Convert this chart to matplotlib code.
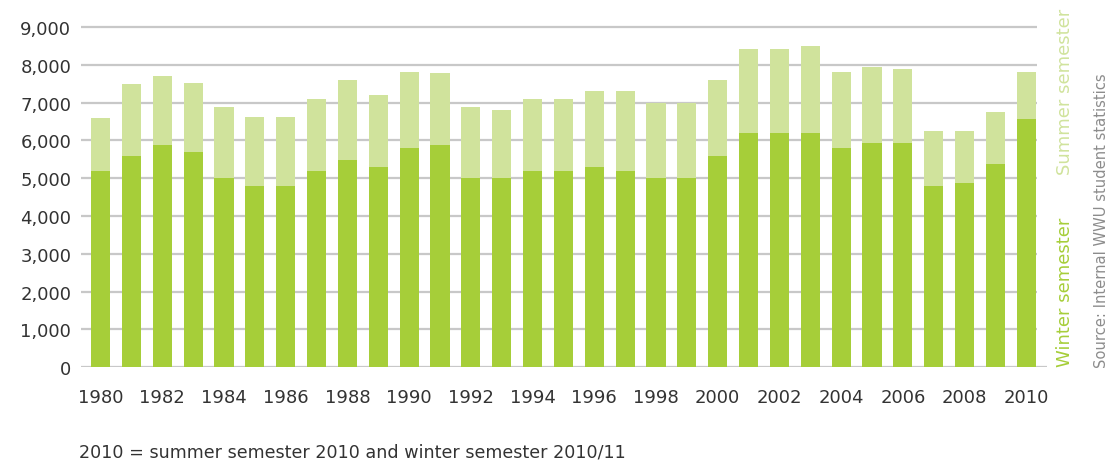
import matplotlib
matplotlib.use("Agg")
import matplotlib.pyplot as plt
import numpy as np

years = list(range(1980, 2011))
winter = [5200, 5600, 5880, 5700, 5000, 4800, 4800, 5200, 5480, 5300,
          5800, 5880, 5000, 5000, 5200, 5200, 5300, 5200, 5000, 5000,
          5600, 6200, 6200, 6200, 5800, 5930, 5930, 4800, 4880, 5380, 6570]
total = [6600, 7500, 7700, 7520, 6880, 6620, 6620, 7100, 7600, 7200,
         7810, 7780, 6880, 6800, 7100, 7100, 7300, 7300, 7000, 7000,
         7600, 8420, 8420, 8500, 7810, 7940, 7890, 6250, 6250, 6750, 7810]
summer = [t - w for t, w in zip(total, winter)]
yticks = [0, 1000, 2000, 3000, 4000, 5000, 6000, 7000, 8000, 9000]
xtick_years = years[::2]

W, H = 1109, 464
C_WIN = "#a6ce39"
C_SUM = "#d0e39c"
C_GRID = "#c8c8c8"
C_TXT = "#333333"

plt.rcParams['font.family'] = ['DejaVu Sans']
fig = plt.figure(figsize=(W / 100, H / 100), dpi=100)
left, right = 81, 1047
bottom, top = 368.3, 28
ax = fig.add_axes([left / W, 1 - bottom / H, (right - left) / W, (bottom - top) / H])

x = np.arange(len(years))
bw = 0.62
ax.bar(x, winter, width=bw, color=C_WIN, zorder=3)
ax.bar(x, summer, width=bw, bottom=winter, color=C_SUM, zorder=3)

ax.set_xlim(-0.632, 30.67)
ax.set_ylim(0, 9000)
for v in yticks[1:]:
    ax.hlines(v, -0.632, 30.34, color=C_GRID, lw=1.6, zorder=1, clip_on=False)
ax.axhline(0, color=C_GRID, lw=1.6, zorder=1)

for s in ax.spines.values():
    s.set_visible(False)

ax.set_yticks(yticks)
ax.set_yticklabels([f"{v:,}" for v in yticks])
ax.set_xticks([years.index(y) for y in xtick_years])
ax.set_xticklabels([str(y) for y in xtick_years])
ax.tick_params(axis='y', length=0, pad=7, labelsize=13, labelcolor=C_TXT)
ax.tick_params(axis='x', length=0, pad=15, labelsize=13, labelcolor=C_TXT)

def fx(px):
    return px / W

def fy(py):
    return 1 - py / H

fig.text(fx(79), fy(453), "2010 = summer semester 2010 and winter semester 2010/11",
         ha='left', va='center', fontsize=12.6, color=C_TXT)
fig.text(fx(1065), fy(367), "Winter semester", rotation=90, ha='center', va='bottom',
         fontsize=13, color=C_WIN)
fig.text(fx(1065), fy(175), "Summer semester", rotation=90, ha='center', va='bottom',
         fontsize=13, color=C_SUM)
fig.text(fx(1101), fy(368), "Source: Internal WWU student statistics", rotation=90,
         ha='center', va='bottom', fontsize=10.6, color="#8c8c8c")

fig.savefig("out.png", dpi=100)
